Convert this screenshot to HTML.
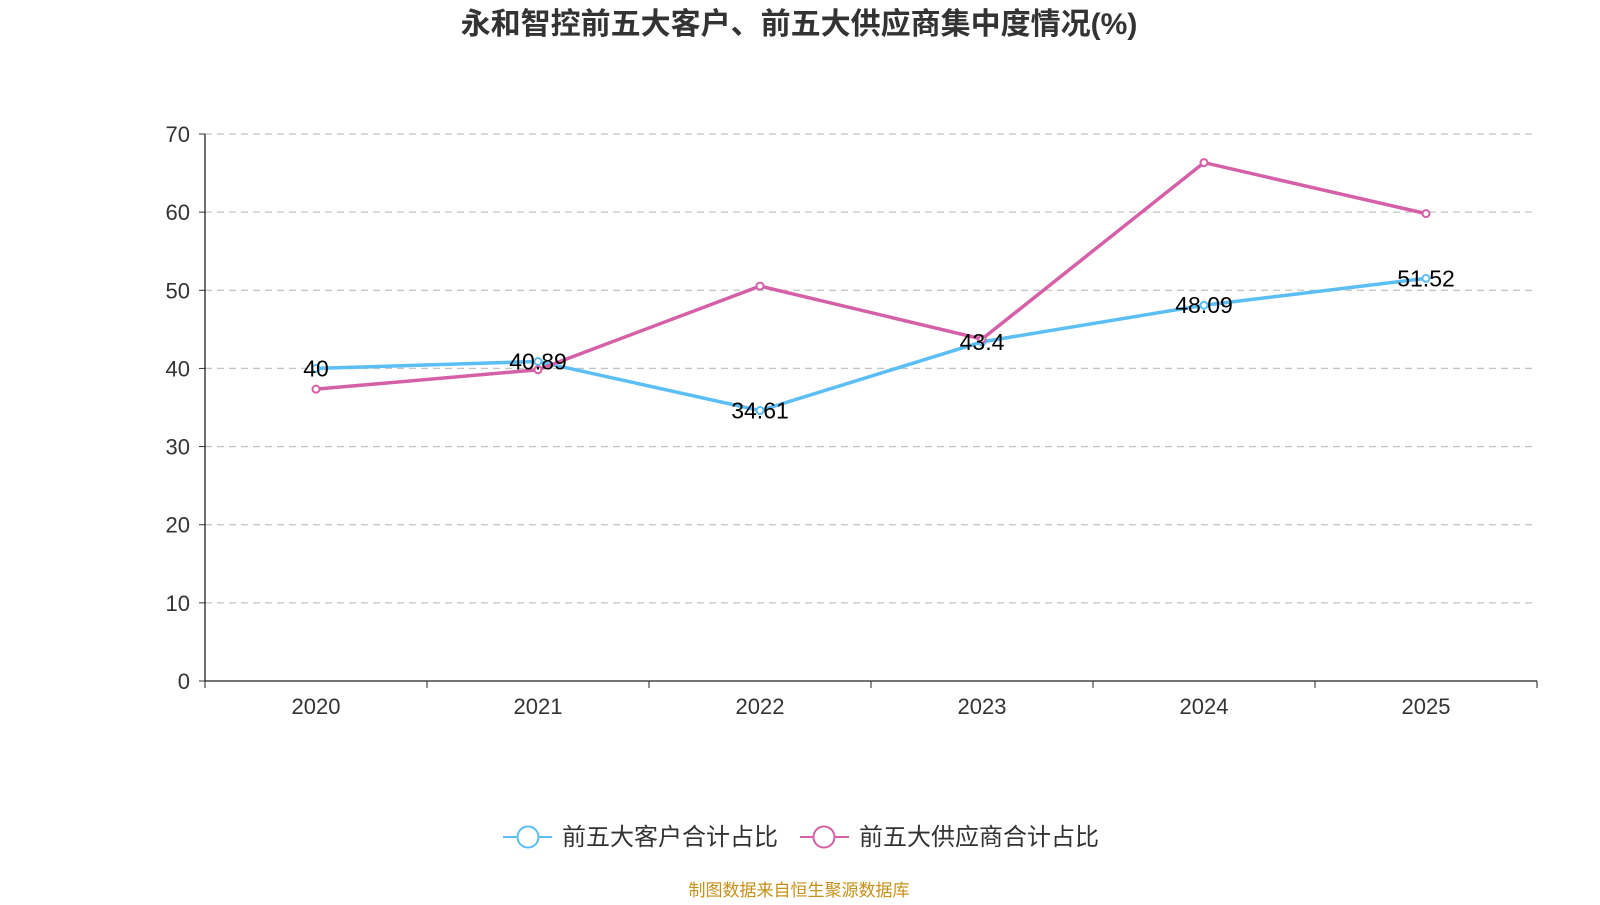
<!DOCTYPE html>
<html><head><meta charset="utf-8"><style>
body{margin:0;width:1600px;height:900px;background:#fff;overflow:hidden;font-family:"Liberation Sans","Noto Sans CJK SC",sans-serif}
</style></head><body>
<svg width="1600" height="900" xmlns="http://www.w3.org/2000/svg" font-family="Liberation Sans, Noto Sans CJK SC, sans-serif">
<text x="799" y="34" text-anchor="middle" font-size="30" font-weight="bold" fill="#333">永和智控前五大客户、前五大供应商集中度情况(%)</text>
<g id="grid"></g><g id="axes"></g><g id="series"></g>
<g>
<g>
<line x1="503" y1="837" x2="552" y2="837" stroke="#5bbef5" stroke-width="2"/><circle cx="528" cy="837" r="10.5" fill="#fff" stroke="#5bbef5" stroke-width="2"/>
<text x="562" y="845" font-size="24" fill="#333">前五大客户合计占比</text></g>
<g>
<line x1="800" y1="837" x2="849" y2="837" stroke="#d660a8" stroke-width="2"/><circle cx="824" cy="837" r="10.5" fill="#fff" stroke="#d660a8" stroke-width="2"/>
<text x="859" y="845" font-size="24" fill="#333">前五大供应商合计占比</text></g>
</g>
<text x="799" y="896" text-anchor="middle" font-size="17" fill="#c8901a">制图数据来自恒生聚源数据库</text>
</svg>
<script>
const categories=["2020","2021","2022","2023","2024","2025"];
const customers=[40,40.89,34.61,43.4,48.09,51.52];
const suppliers=[37.35,39.83,50.54,43.75,66.34,59.81];
const yTicks=[0,10,20,30,40,50,60,70];
const NS="http://www.w3.org/2000/svg";
const x0=205,x1=1537,yTop=134,yBot=681;
const bw=(x1-x0)/categories.length;
const xs=i=>x0+bw*(i+0.5);
const ys=v=>yBot-(v/70)*(yBot-yTop);
function mk(t,a,p){const e=document.createElementNS(NS,t);for(const k in a)e.setAttribute(k,a[k]);p.appendChild(e);return e;}
const grid=document.getElementById('grid'),axes=document.getElementById('axes'),ser=document.getElementById('series');
yTicks.forEach(v=>{
 if(v>0){const g=mk('line',{x1:x0,x2:x1,y1:ys(v),y2:ys(v),stroke:'#c4c4c4','stroke-width':1.3,'stroke-dasharray':'7,5'},grid);
 
 }
 mk('line',{x1:x0-6,x2:x0,y1:ys(v),y2:ys(v),stroke:'#333'},axes);
 const t=mk('text',{x:x0-15,y:ys(v)+8,'text-anchor':'end','font-size':22,fill:'#333'},axes);t.textContent=v;
 
 
});
mk('line',{x1:x0,x2:x0,y1:yTop,y2:yBot,stroke:'#222','stroke-width':1.3},axes);
mk('line',{x1:x0,x2:x1,y1:yBot,y2:yBot,stroke:'#222','stroke-width':1.3},axes);
for(let i=0;i<=categories.length;i++)mk('line',{x1:x0+bw*i,x2:x0+bw*i,y1:yBot,y2:yBot+7,stroke:'#222'},axes);
categories.forEach((c,i)=>{const t=mk('text',{x:xs(i),y:yBot+33,'text-anchor':'middle','font-size':22,fill:'#333'},axes);t.textContent=c;
 
 });
function line(data,color,name){
 const p=mk('polyline',{points:data.map((v,i)=>xs(i)+','+ys(v)).join(' '),fill:'none',stroke:color,'stroke-width':3.5},ser);
 
 
 data.forEach((v,i)=>{const c=mk('circle',{cx:xs(i),cy:ys(v),r:3.5,fill:'#fff',stroke:color,'stroke-width':2},ser);
  
  });
}
line(customers,'#5bbef5','customers');
line(suppliers,'#d660a8','suppliers');
customers.forEach((v,i)=>{const t=mk('text',{x:xs(i),y:ys(v)+8,'text-anchor':'middle','font-size':23,fill:'#000'},ser);t.textContent=v;
 
 });
</script>
</body></html>
